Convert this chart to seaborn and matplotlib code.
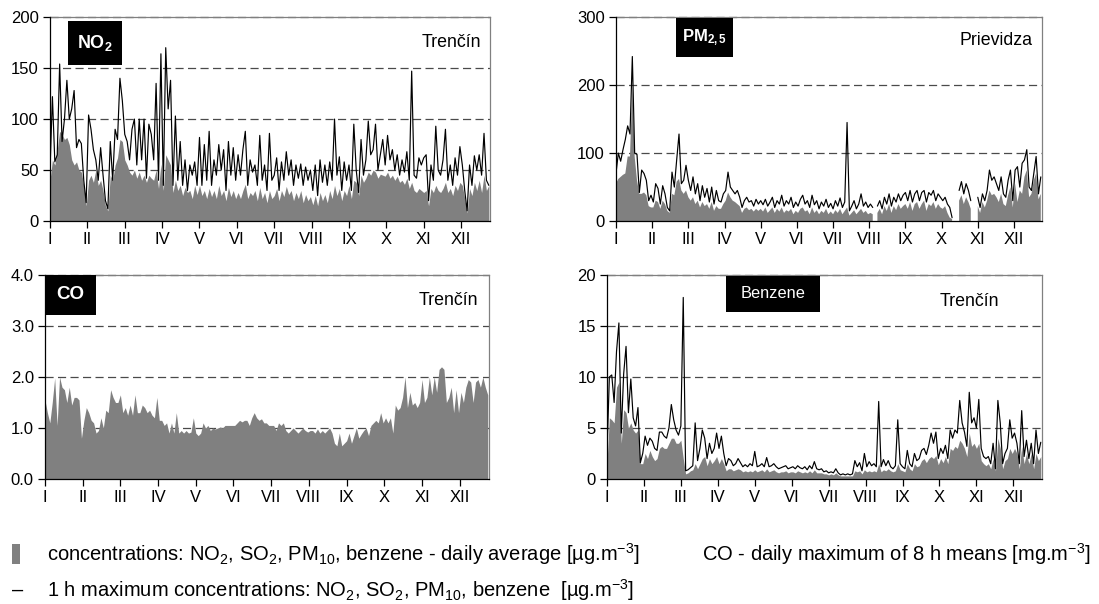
import numpy as np
import matplotlib
matplotlib.use("Agg")
import matplotlib.pyplot as plt
from matplotlib.patches import Rectangle
import seaborn as sns

nan = np.nan

# ---- data: one value every second day of the year (day 0, 2, ..., 364) ----
DAY_STEP = 2
MONTHS = ["I", "II", "III", "IV", "V", "VI", "VII", "VIII", "IX", "X", "XI", "XII"]
MONTH_TICKS = [0, 31, 62, 93, 124, 155, 186, 217, 248, 279, 310, 341]

# NO2, Trenčín [µg/m3]
no2_avg = [40, 60, 55, 70, 88, 85, 80, 82, 75, 60, 55, 58, 50, 48, 35, 15,
           40, 45, 38, 50, 35, 40, 30, 15, 10, 45, 40, 55, 62, 80,
           78, 60, 55, 48, 45, 50, 42, 48, 40, 45, 38, 45, 42, 40, 50, 32, 56,
           30, 65, 60, 55, 28, 40, 30, 35, 25, 33, 28, 30, 22, 35, 26,
           35, 25, 30, 22, 32, 24, 30, 22, 35, 25, 30, 20, 33, 24, 30, 22,
           28, 22, 30, 36, 22, 28, 25, 30, 20, 33, 22, 28, 18, 30, 22,
           25, 32, 20, 30, 24, 34, 26, 30, 20, 28, 22, 30, 18, 26, 20, 24,
           16, 25, 15, 28, 20, 26, 18, 30, 22, 35, 25, 32, 20, 30, 25,
           35, 22, 40, 38, 25, 45, 38, 42, 48, 45, 50, 48, 42, 46, 45, 44,
           48, 42, 45, 40, 44, 38, 40, 36, 42, 32, 38, 30, 28, 32, 30,
           28, 30, 15, 32, 28, 35, 30, 28, 32, 38, 28, 32, 25, 35, 30, 38,
           35, 22, 8, 32, 25, 38, 30, 40, 28, 45, 30, 35]
no2_max = [50, 122, 58, 65, 154, 78, 100, 138, 100, 110, 128, 72, 80, 76, 40, 18,
           104, 90, 70, 60, 40, 72, 45, 20, 12, 78, 40, 90, 80, 140,
           118, 85, 78, 60, 90, 100, 55, 100, 60, 100, 42, 95, 85, 60, 135, 40, 164,
           35, 170, 110, 138, 35, 103, 40, 78, 35, 60, 30, 55, 45, 58, 35,
           82, 35, 75, 40, 88, 35, 60, 45, 75, 50, 70, 30, 78, 45, 72, 40,
           65, 45, 70, 88, 35, 60, 48, 55, 35, 84, 40, 55, 30, 86, 40,
           45, 62, 30, 58, 40, 68, 45, 60, 35, 55, 42, 56, 35, 53, 40, 50,
           30, 55, 25, 60, 38, 55, 35, 58, 40, 100, 45, 63, 30, 58, 40,
           55, 30, 95, 50, 28, 80, 45, 60, 98, 65, 70, 95, 50, 65, 80, 55,
           84, 60, 70, 50, 65, 45, 60, 48, 68, 40, 147, 45, 42, 62, 55,
           62, 65, 20, 55, 40, 93, 50, 45, 60, 90, 40, 55, 35, 62, 45, 73,
           55, 30, 10, 55, 35, 64, 50, 65, 45, 86, 40, 35]

# PM2.5, Prievidza [µg/m3]
pm25_avg = [55, 62, 65, 68, 70, 95, 95, 200, 95, 60, 40, 40, 42, 38, 22, 20,
            20, 30, 28, 18, 30, 25, 15, 12, 40, 38, 58, 62, 45, 40,
            45, 35, 30, 35, 25, 30, 20, 28, 22, 25, 18, 28, 15, 22, 18, 18, 25,
            30, 42, 35, 30, 28, 25, 22, 12, 18, 20, 16, 18, 14, 18, 15,
            18, 14, 20, 12, 16, 20, 12, 18, 14, 20, 12, 16, 14, 18, 10, 15,
            12, 18, 20, 14, 16, 10, 20, 12, 16, 10, 15, 12, 18, 10, 14,
            10, 16, 12, 18, 10, 15, 20, 8, 12, 16, 10, 14, 18, 12, 15, 10,
            12, 10, nan, 12, 18, 10, 22, 15, 25, 12, 22, 16, 25, 18, 22,
            25, 18, 28, 15, 25, 28, 18, 25, 30, 15, 25, 22, 28, 18, 25, 20,
            18, 22, 12, 5, 3, nan, nan, 30, 38, 25, 35, 28, 18, nan, nan,
            22, 12, 28, 20, 30, 45, 38, 40, 35, 28, 40, 25, 22, 38, 50, 20,
            55, 28, 45, 40, 65, 75, 35, 40, 60, 70, 32, 40]
pm25_max = [70, 100, 88, 105, 120, 140, 128, 242, 100, 98, 42, 75, 70, 60, 30, 38,
            28, 55, 48, 25, 52, 40, 20, 15, 72, 50, 90, 128, 55, 60,
            82, 60, 45, 65, 40, 55, 30, 52, 35, 48, 28, 50, 25, 45, 30, 28, 40,
            45, 72, 50, 45, 40, 45, 35, 20, 30, 35, 28, 30, 22, 32, 25,
            30, 24, 32, 22, 28, 35, 20, 30, 25, 38, 22, 30, 25, 35, 20, 28,
            22, 32, 38, 25, 30, 20, 38, 24, 30, 18, 28, 22, 32, 20, 26,
            18, 30, 22, 34, 20, 28, 145, 15, 22, 30, 18, 25, 40, 22, 28, 20,
            25, 20, nan, 22, 30, 18, 35, 25, 40, 22, 35, 28, 40, 30, 38,
            42, 30, 45, 28, 40, 45, 30, 42, 45, 28, 42, 38, 45, 30, 40, 35,
            30, 35, 25, 20, 5, nan, nan, 45, 58, 40, 55, 45, 30, nan, nan,
            35, 20, 40, 30, 45, 75, 60, 65, 55, 45, 65, 40, 35, 60, 75, 30,
            75, 80, 50, 85, 90, 105, 50, 45, 70, 95, 40, 65]

# CO, Trenčín, daily maximum of 8 h means [mg/m3]
co_max8h = [1.55, 1.3, 1.1, 1.5, 1.98, 1.05, 2.0, 1.8, 1.75, 1.5, 1.8, 1.45, 1.6, 1.6, 1.55, 0.8,
            1.15, 1.4, 1.3, 1.15, 1.1, 0.9, 0.95, 1.2, 1.0, 1.35, 1.3, 1.75, 1.6, 1.5,
            1.5, 1.65, 1.3, 1.4, 1.25, 1.45, 1.25, 1.65, 1.3, 1.3, 1.45, 1.4, 1.3, 1.35, 1.25, 1.2, 1.6,
            1.15, 1.15, 1.05, 1.1, 0.9, 1.1, 0.9, 1.3, 0.9, 0.95, 0.9, 0.95, 0.9, 0.92, 1.2,
            0.9, 0.85, 0.9, 1.1, 1.0, 1.05, 0.95, 1.0, 0.98, 1.0, 1.02, 1.0, 1.05, 1.05, 1.05, 1.05,
            1.05, 1.1, 1.15, 1.12, 1.15, 1.15, 1.05, 1.2, 1.3, 1.2, 1.15, 1.18, 1.1, 1.1, 1.05,
            1.05, 1.05, 0.95, 1.1, 1.05, 1.1, 0.95, 0.9, 0.95, 1.0, 0.95, 0.9, 0.95, 1.0, 0.95, 0.92,
            0.95, 0.95, 0.9, 0.98, 0.9, 0.95, 0.9, 0.95, 1.0, 0.9, 0.7, 0.65, 0.9, 0.65, 0.7,
            0.75, 0.9, 0.7, 0.85, 1.0, 0.8, 0.88, 0.95, 1.0, 0.85, 1.05, 1.1, 1.15, 1.1, 1.3, 1.1,
            1.2, 1.1, 1.2, 0.9, 1.45, 1.35, 1.4, 1.6, 2.0, 1.4, 1.7, 1.45, 1.5, 1.4, 1.5,
            1.95, 1.5, 1.6, 2.0, 1.65, 2.0, 1.7, 2.15, 2.2, 2.15, 1.5, 1.6, 1.8, 1.3, 1.75, 1.3,
            1.7, 1.5, 1.8, 1.95, 1.9, 1.5, 1.9, 1.95, 1.8, 2.0, 1.8, 1.65]

# Benzene, Trenčín [µg/m3]
benzene_avg = [1.5, 6.0, 5.8, 5.5, 9.0, 9.5, 3.5, 6.8, 6.5, 5.0, 5.5, 4.8, 4.5, 4.8, 1.5, 1.5,
               2.5, 2.0, 2.8, 2.2, 1.8, 2.0, 3.0, 3.2, 3.0, 3.0, 3.5, 4.0, 4.0, 3.5,
               3.5, 3.8, 2.0, 0.5, 0.6, 0.8, 0.9, 1.5, 1.0, 1.5, 2.0, 2.2, 1.3, 2.0, 1.5, 1.8, 2.2,
               1.5, 2.0, 1.5, 0.8, 1.0, 1.0, 0.8, 0.9, 1.0, 0.9, 0.7, 0.8, 0.7, 0.8, 0.7,
               0.9, 0.7, 0.8, 0.9, 0.7, 1.0, 0.7, 0.8, 0.9, 0.7, 0.6, 0.7, 0.7, 0.8, 0.6, 0.7,
               0.7, 0.6, 0.8, 0.7, 0.6, 0.7, 0.6, 0.8, 0.6, 0.9, 0.6, 0.6, 0.6, 0.5, 0.5,
               0.4, 0.5, 0.4, 0.6, 0.4, 0.3, 0.3, 0.3, 0.3, 0.3, 0.3, 0.8, 0.7, 0.8, 0.5, 0.9,
               0.7, 0.8, 0.7, 0.8, 0.7, 1.5, 0.7, 0.9, 0.8, 1.0, 0.8, 0.7, 0.8, 1.5, 0.9,
               0.8, 0.7, 1.5, 1.0, 0.8, 1.5, 1.2, 1.3, 1.8, 2.0, 1.6, 2.0, 2.2, 2.0, 2.3, 1.4,
               2.0, 1.6, 2.2, 1.5, 3.0, 2.8, 3.2, 3.0, 3.8, 3.5, 3.0, 2.2, 4.5, 3.2, 3.5,
               3.0, 3.5, 1.8, 1.5, 1.3, 1.5, 1.0, 2.0, 0.8, 4.0, 3.0, 1.0, 1.8, 2.0, 3.0, 2.5,
               3.0, 2.5, 1.0, 3.2, 1.5, 2.5, 1.5, 2.5, 1.0, 2.5, 1.8, 2.2]
benzene_max = [2.5, 10.0, 10.2, 7.5, 12.5, 15.3, 4.5, 10.3, 13.0, 6.5, 9.8, 6.0, 5.2, 7.0, 1.6, 2.5,
               4.2, 3.3, 4.0, 3.7, 3.0, 2.8, 4.6, 4.6, 4.2, 4.0, 5.0, 7.3, 5.8, 4.8,
               4.3, 5.2, 17.8, 0.8, 0.9, 1.1, 1.3, 5.5, 1.8, 3.0, 4.8, 4.0, 2.0, 3.5, 2.5, 3.0, 4.5,
               3.0, 4.2, 2.5, 1.3, 2.0, 1.8, 1.3, 1.5, 2.0, 1.6, 1.2, 1.4, 1.2, 1.5, 1.3,
               2.7, 1.2, 1.3, 1.5, 1.2, 2.1, 1.2, 1.3, 1.5, 1.2, 1.0, 1.1, 1.2, 1.3, 1.0, 1.1,
               1.2, 1.0, 1.3, 1.1, 1.0, 1.2, 0.9, 1.3, 1.0, 1.7, 1.0, 0.9, 1.0, 0.7, 0.8,
               0.6, 0.7, 0.6, 1.0, 0.6, 0.4, 0.5, 0.4, 0.5, 0.4, 0.5, 1.8, 1.2, 1.6, 0.8, 2.5,
               1.2, 1.7, 1.3, 1.5, 1.2, 7.6, 1.2, 1.9, 1.3, 1.8, 1.2, 1.0, 1.3, 5.8, 1.5,
               1.2, 1.0, 2.8, 1.5, 1.2, 2.5, 1.8, 2.0, 2.8, 3.0, 2.4, 3.3, 4.5, 3.5, 4.6, 2.0,
               3.0, 2.5, 3.3, 2.0, 4.8, 4.0, 4.8, 4.5, 7.7, 5.5, 4.6, 3.2, 8.5, 5.5, 6.0,
               5.0, 7.8, 3.0, 2.2, 2.0, 2.2, 1.5, 3.5, 1.0, 7.7, 5.5, 1.5, 2.5, 3.0, 5.8, 4.0,
               4.5, 3.5, 1.5, 6.7, 2.2, 3.8, 2.0, 3.5, 1.5, 4.8, 2.5, 3.6]

# ---- style ----
sns.set_theme(style="ticks")
plt.rcParams["font.family"] = ["Liberation Sans", "DejaVu Sans"]
plt.rcParams["mathtext.fontset"] = "custom"
plt.rcParams["mathtext.rm"] = "Liberation Sans"
plt.rcParams["mathtext.it"] = "Liberation Sans:italic"
plt.rcParams["mathtext.bf"] = "Liberation Sans:bold"
plt.rcParams["mathtext.default"] = "regular"
plt.rcParams["text.color"] = "black"
plt.rcParams["axes.labelcolor"] = "black"
plt.rcParams["xtick.color"] = "black"
plt.rcParams["ytick.color"] = "black"

FILL = "#808080"
GRID = "#4a4a4a"
FRAME = "#808080"
TICK_FS = 12

fig = plt.figure(figsize=(10.99, 6.04), dpi=100)
fig.patch.set_facecolor("white")


def line_segments(values):
    """Split a series at missing values so gaps stay open."""
    vals = np.asarray(values, dtype=float)
    days = np.arange(len(vals)) * DAY_STEP
    ok = ~np.isnan(vals)
    segs, start = [], None
    for i, good in enumerate(ok):
        if good and start is None:
            start = i
        if (not good or i == len(vals) - 1) and start is not None:
            end = i + 1 if good else i
            segs.append((days[start:end], vals[start:end]))
            start = None
    return segs


def panel(rect, avg, peak, ymax, yticks, ylabels, tag, tag_box, tag_fs, tag_bold,
          site, site_xy, site_ha):
    ax = fig.add_axes(rect)
    ax.set_facecolor("white")
    ax.set_xlim(0, 365)
    ax.set_ylim(0, ymax)

    for t in yticks[1:]:
        ax.axhline(t, color=GRID, lw=0.9, dashes=(6.5, 3.5), zorder=1, clip_on=False)

    avg = np.asarray(avg, dtype=float)
    days = np.arange(len(avg)) * DAY_STEP
    ax.fill_between(days, avg, 0, color=FILL, lw=0, zorder=2)

    if peak is not None:
        for x, y in line_segments(peak):
            sns.lineplot(x=x, y=y, ax=ax, color="black", lw=0.85, zorder=3,
                         estimator=None, sort=False)

    ax.set_xticks(MONTH_TICKS, MONTHS)
    ax.set_yticks(yticks, ylabels)
    ax.tick_params(axis="both", direction="out", length=5, width=0.9,
                   color="black", labelsize=TICK_FS, labelcolor="black")
    ax.tick_params(axis="x", pad=3)
    ax.tick_params(axis="y", pad=3)
    ax.set_xlabel("")
    ax.set_ylabel("")
    for side in ("left", "bottom"):
        ax.spines[side].set_color("black")
        ax.spines[side].set_linewidth(0.9)
    for side in ("top", "right"):
        ax.spines[side].set_visible(True)
        ax.spines[side].set_color(FRAME)
        ax.spines[side].set_linewidth(0.9)
    ax.spines["left"].set_zorder(4)
    ax.spines["bottom"].set_zorder(4)

    bx, by, bw, bh = tag_box
    ax.add_patch(Rectangle((bx, by), bw, bh, transform=ax.transAxes,
                           facecolor="black", edgecolor="none", zorder=5,
                           clip_on=False))
    ax.text(bx + bw / 2, by + bh / 2, tag, transform=ax.transAxes,
            ha="center", va="center", color="white", fontsize=tag_fs,
            fontweight="bold" if tag_bold else "normal", zorder=6)
    ax.text(site_xy[0], site_xy[1], site, transform=ax.transAxes,
            ha=site_ha, va="center", fontsize=12.8, color="black", zorder=6)
    return ax


panel([0.0455, 0.634, 0.4004, 0.3377], no2_avg, no2_max, 200,
      [0, 50, 100, 150, 200], ["0", "50", "100", "150", "200"],
      r"$\mathbf{NO_2}$", (0.0416, 0.765, 0.121, 0.217), 13, True,
      "Trenčín", (0.98, 0.873), "right")

panel([0.5605, 0.634, 0.3876, 0.3377], pm25_avg, pm25_max, 300,
      [0, 100, 200, 300], ["0", "100", "200", "300"],
      r"$\mathbf{PM_{2,5}}$", (0.140, 0.802, 0.135, 0.196), 12, True,
      "Prievidza", (0.978, 0.887), "right")

panel([0.0409, 0.207, 0.404, 0.3377], co_max8h, None, 4.0,
      [0.0, 1.0, 2.0, 3.0, 4.0], ["0.0", "1.0", "2.0", "3.0", "4.0"],
      "CO", (0.0, 0.804, 0.116, 0.196), 13.5, True,
      "Trenčín", (0.975, 0.877), "right")

panel([0.5523, 0.207, 0.3958, 0.3377], benzene_avg, benzene_max, 20,
      [0, 5, 10, 15, 20], ["0", "5", "10", "15", "20"],
      "Benzene", (0.273, 0.820, 0.217, 0.175), 11.8, False,
      "Trenčín", (0.834, 0.869), "center")

# ---- key below the panels ----
fig.patches.append(Rectangle((0.0109, 0.0662), 0.0073, 0.0331, transform=fig.transFigure,
                             facecolor=FILL, edgecolor="none"))
KEY_FS = 14.5
fig.text(0.0428, 0.0828,
         r"concentrations: NO$_2$, SO$_2$, PM$_{10}$, benzene - daily average [µg.m$^{-3}$]",
         ha="left", va="center", fontsize=KEY_FS, color="black")
fig.text(0.6388, 0.0828, r"CO - daily maximum of 8 h means [mg.m$^{-3}$]",
         ha="left", va="center", fontsize=KEY_FS, color="black")
fig.text(0.0109, 0.0232, "–", ha="left", va="center", fontsize=KEY_FS, color="black")
fig.text(0.0428, 0.0232,
         r"1 h maximum concentrations: NO$_2$, SO$_2$, PM$_{10}$, benzene  [µg.m$^{-3}$]",
         ha="left", va="center", fontsize=KEY_FS, color="black")

fig.savefig("out.png", dpi=100, facecolor="white")
